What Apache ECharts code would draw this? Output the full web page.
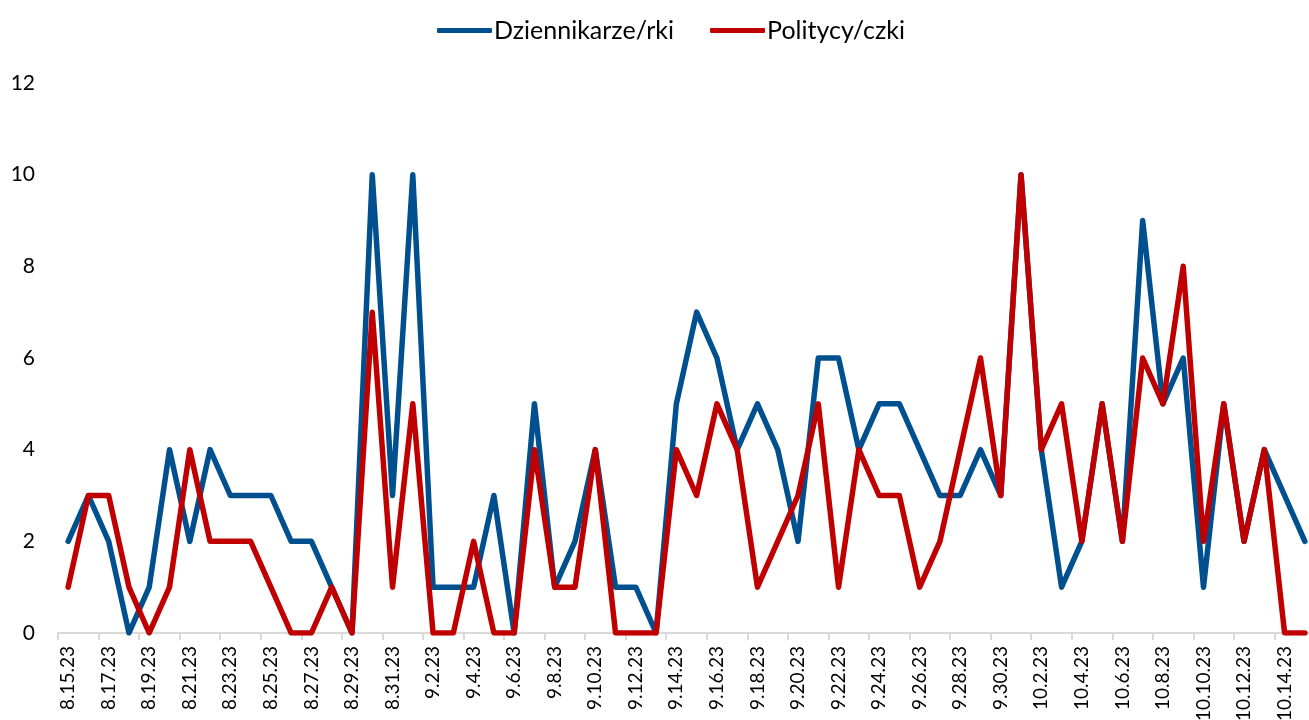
<!DOCTYPE html>
<html>
<head>
<meta charset="utf-8">
<script src="https://cdn.jsdelivr.net/npm/echarts@6/dist/echarts.min.js"></script>
<style>
html,body{margin:0;padding:0;background:#fff;}
#c{width:1309px;height:720px;}
</style>
</head>
<body>
<div id="c"></div>
<script>
const categories = [
  '8.15.23','8.16.23','8.17.23','8.18.23','8.19.23','8.20.23','8.21.23','8.22.23','8.23.23','8.24.23',
  '8.25.23','8.26.23','8.27.23','8.28.23','8.29.23','8.30.23','8.31.23','9.1.23','9.2.23','9.3.23',
  '9.4.23','9.5.23','9.6.23','9.7.23','9.8.23','9.9.23','9.10.23','9.11.23','9.12.23','9.13.23',
  '9.14.23','9.15.23','9.16.23','9.17.23','9.18.23','9.19.23','9.20.23','9.21.23','9.22.23','9.23.23',
  '9.24.23','9.25.23','9.26.23','9.27.23','9.28.23','9.29.23','9.30.23','10.1.23','10.2.23','10.3.23',
  '10.4.23','10.5.23','10.6.23','10.7.23','10.8.23','10.9.23','10.10.23','10.11.23','10.12.23','10.13.23',
  '10.14.23','10.15.23'
];
const dziennikarze = [
  2,3,2,0,1,4,2,4,3,3,
  3,2,2,1,0,10,3,10,1,1,
  1,3,0,5,1,2,4,1,1,0,
  5,7,6,4,5,4,2,6,6,4,
  5,5,4,3,3,4,3,10,4,1,
  2,5,2,9,5,6,1,5,2,4,
  3,2
];
const politycy = [
  1,3,3,1,0,1,4,2,2,2,
  1,0,0,1,0,7,1,5,0,0,
  2,0,0,4,1,1,4,0,0,0,
  4,3,5,4,1,2,3,5,1,4,
  3,3,1,2,4,6,3,10,4,5,
  2,5,2,6,5,8,2,5,2,4,
  0,0
];
const seriesNames = ['Dziennikarze/rki','Politycy/czki'];
const yTicks = {min:0, max:12, interval:2};

const FONT = 'Lato, "Open Sans", sans-serif';
const chart = echarts.init(document.getElementById('c'), null, {renderer:'canvas'});
chart.setOption({
  animation:false,
  backgroundColor:'#fff',
  legend:{
    left:432, top:13,
    icon:'roundRect',
    itemWidth:55, itemHeight:5, itemGap:36,
    textStyle:{fontFamily:FONT, fontSize:25, color:'#000', padding:[0,0,0,-3]},
    data:seriesNames
  },
  grid:{left:58, width:1257, top:83, height:550, containLabel:false, outerBoundsMode:'none'},
  xAxis:{
    type:'category',
    data:categories,
    boundaryGap:true,
    axisLine:{show:true, lineStyle:{color:'#D9D9D9', width:2}},
    axisTick:{show:true, interval:1, length:7, lineStyle:{color:'#D9D9D9', width:2}},
    axisLabel:{interval:1, rotate:90, margin:13, fontFamily:FONT, fontSize:19, color:'#000'},
    splitLine:{show:false}
  },
  yAxis:{
    type:'value',
    min:yTicks.min, max:yTicks.max, interval:yTicks.interval,
    axisLine:{show:false}, axisTick:{show:false},
    splitLine:{show:false},
    axisLabel:{margin:23, fontFamily:FONT, fontSize:21, color:'#000'}
  },
  series:[
    {name:seriesNames[0], type:'line', data:dziennikarze, symbol:'none', smooth:false,
     lineStyle:{color:'#00508F', width:5.5, cap:'round', join:'round'}, itemStyle:{color:'#00508F'}},
    {name:seriesNames[1], type:'line', data:politycy, symbol:'none', smooth:false,
     lineStyle:{color:'#C00000', width:5.5, cap:'round', join:'round'}, itemStyle:{color:'#C00000'}}
  ]
});
</script>
</body>
</html>
